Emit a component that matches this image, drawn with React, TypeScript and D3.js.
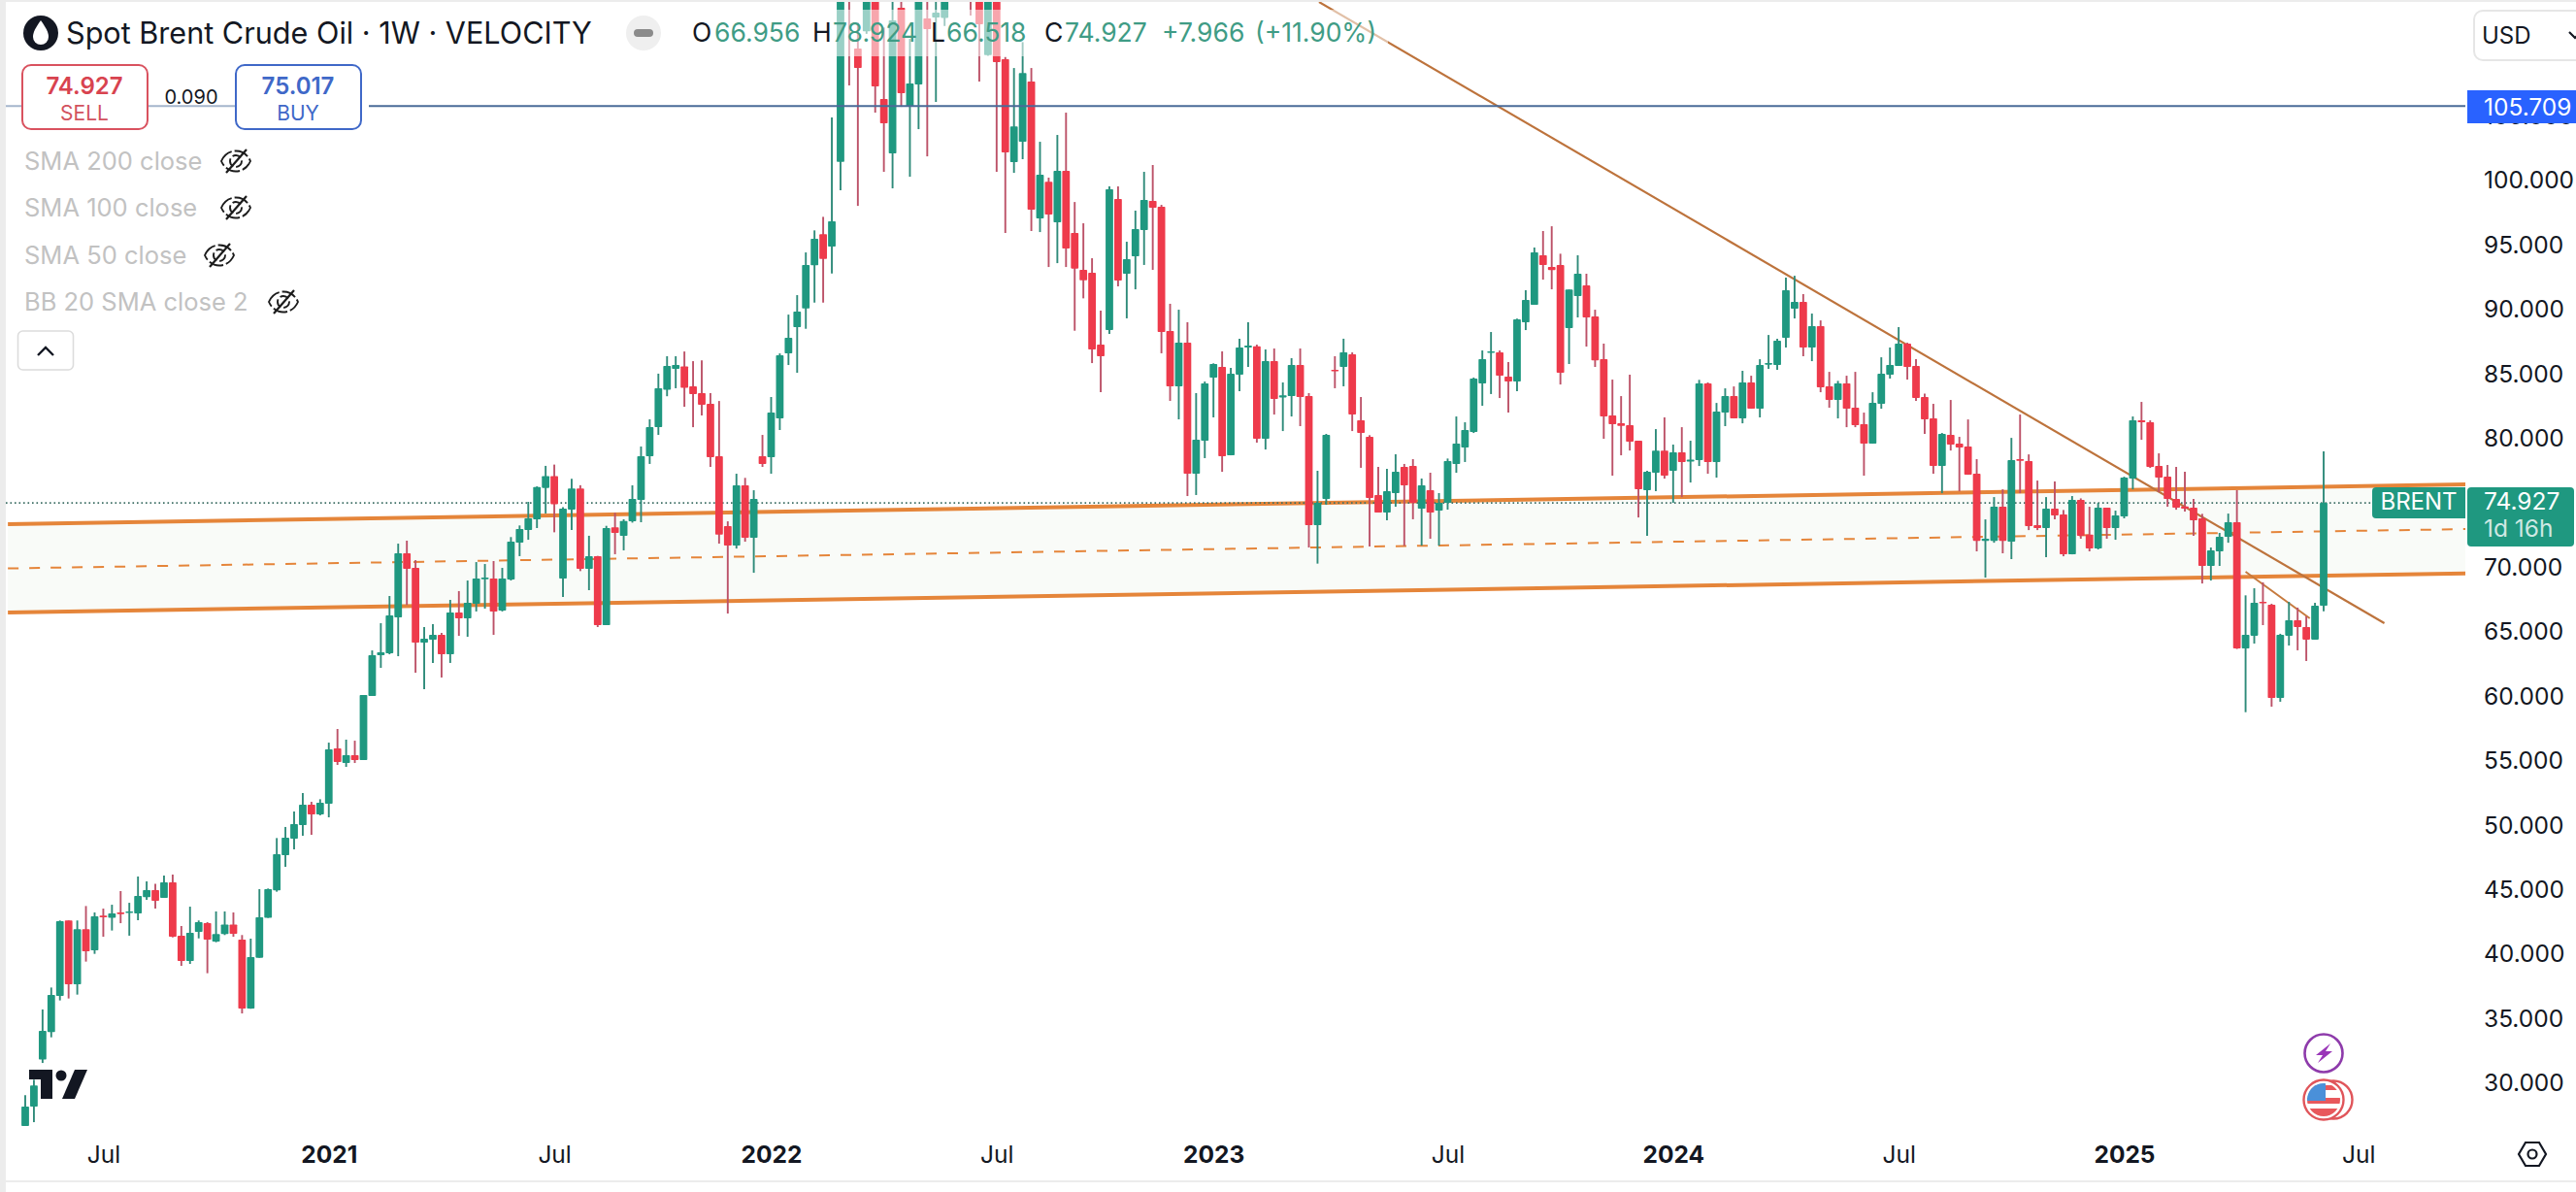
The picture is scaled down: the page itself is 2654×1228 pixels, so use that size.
import { useRef, useEffect } from 'react'
import * as d3 from 'd3'

const opens = [
  26.61, 28.12, 31.76, 33.89, 36.7, 42.55, 37.6, 41.87, 40.24, 42.92,
  42.75, 43.17, 43.15, 43.1, 44.35, 44.9, 44.3, 45.5, 41.37, 39.41,
  41.67, 42.34, 40.91, 41.49, 42.24, 41.06, 35.72, 39.66, 42.75, 44.88,
  47.61, 48.89, 49.95, 51.53, 50.77, 51.6, 55.89, 54.76, 55.37, 54.99,
  59.96, 63.12, 63.27, 66.05, 71.02, 69.89, 64.1, 64.32, 64.7, 63.19,
  66.43, 65.98, 67.11, 69.01, 69.06, 66.58, 68.99, 71.85, 72.83, 73.66,
  76.09, 77, 69.06, 74.41, 76.04, 69.82, 70.8, 65.45, 73.03, 72.38,
  73.51, 75.16, 78.55, 80.8, 83.7, 85.32, 85.52, 83.96, 83.44, 82.61,
  78.54, 73.13, 71.62, 76.29, 72.22, 78.54, 78.47, 81.48, 86.52, 88.56,
  90.01, 93.35, 95.76, 94.8, 101.37, 118, 110.16, 111.49, 115.5, 106.24,
  102.03, 113.32, 105.64, 107.37, 112.49, 112.57, 112.54, 118, 118, 116,
  115.5, 109.65, 115, 109.33, 101.35, 102.93, 107.6, 96.98, 99.84, 96.68,
  100.67, 95.86, 93, 92.77, 87.2, 88.33, 98.49, 92.7, 94.05, 96.09,
  98.34, 97.89, 88.26, 83.97, 87.35, 77.19, 79.75, 84.65, 85.47, 78.62,
  84.87, 86.98, 87.08, 79.9, 85.92, 83.11, 83.22, 85.62, 83.22, 73.2,
  75.24, 85.25, 85.47, 86.45, 81.33, 80.05, 75.54, 74.18, 75.69, 77.72,
  77.8, 74.48, 75.91, 74.33, 74.94, 77.95, 79.23, 80.43, 84.19, 86.58,
  86.6, 84.72, 84.34, 88.94, 90.29, 94.13, 93.22, 93.37, 88.48, 90.96,
  91.79, 89.38, 86.07, 81.71, 81.1, 80.95, 79.75, 75.91, 77.27, 78.99,
  77.42, 78.85, 78.14, 78.24, 84.19, 78.09, 81.93, 83.21, 81.48, 84.27,
  82.23, 85.65, 85.62, 87.73, 89.99, 90.51, 86.98, 88.63, 83.96, 82.91,
  84.19, 82.31, 81.03, 79.52, 82.61, 84.87, 85.55, 87.28, 85.55, 83.14,
  81.48, 77.79, 80.2, 79.52, 79.3, 77.19, 71.99, 71.99, 74.63, 71.92,
  78.32, 78.17, 73.2, 72.97, 74.48, 74.03, 70.94, 75.16, 72.47, 71.39,
  74.55, 72.97, 73.88, 76.81, 81.33, 81.18, 77.79, 76.96, 75.23, 74.65,
  74.55, 73.73, 70.04, 71.17, 72.3, 73.43, 63.65, 64.63, 67.26, 67.03,
  59.81, 64.63, 65.83, 65.3, 64.33, 66.956,
]

const closes = [
  28.12, 29.75, 33.99, 36.77, 42.5, 37.6, 41.87, 40.16, 42.87, 42.82,
  43.1, 43.05, 43.25, 44.45, 44.9, 44.07, 45.5, 41.29, 39.41, 41.59,
  42.42, 41.06, 41.49, 42.24, 41.52, 35.72, 39.71, 42.8, 44.98, 47.69,
  48.97, 50.02, 51.53, 50.77, 51.68, 55.82, 54.84, 55.37, 54.99, 60.03,
  63.12, 63.34, 66.2, 71.02, 69.82, 64.1, 64.4, 64.7, 63.19, 66.43,
  65.98, 67.18, 69.06, 69.14, 66.51, 69.06, 71.92, 72.9, 73.73, 76.16,
  77, 74.83, 74.48, 76.04, 69.82, 70.8, 65.45, 72.98, 72.6, 73.53,
  75.24, 78.55, 80.8, 83.82, 85.55, 85.62, 83.86, 83.36, 82.53, 78.47,
  72.47, 71.62, 76.29, 72.22, 75.23, 77.94, 81.93, 86.37, 87.73, 89.76,
  93.37, 95.4, 93.85, 96.76, 115.8, 115.5, 108.65, 115.5, 107.22, 104.36,
  112.34, 106.69, 107.45, 115.5, 111.66, 112.94, 115.3, 116, 116, 114.5,
  112.04, 115, 109.1, 102.1, 104.13, 108.27, 97.66, 100.37, 97.29, 100.67,
  94.65, 93.1, 92.19, 86.82, 86.3, 99.25, 92.17, 93.83, 96.16, 98.42,
  97.82, 88.18, 83.97, 87.35, 77.19, 79.83, 84.19, 85.7, 78.55, 84.95,
  86.98, 87.13, 79.9, 85.92, 82.99, 83.27, 85.62, 83.14, 73.2, 74.94,
  80.2, 85.15, 86.6, 81.78, 80.35, 75.31, 74.18, 75.84, 77.34, 76.29,
  74.94, 76.29, 74.18, 74.94, 78.17, 79.53, 80.58, 84.57, 86.07, 86.68,
  84.8, 84.34, 89.16, 90.67, 94.35, 93.37, 92.99, 85.02, 91.47, 92.7,
  89.31, 85.98, 81.63, 81.03, 80.9, 79.67, 75.99, 77.34, 78.99, 77.04,
  78.85, 78.09, 78.29, 84.19, 78.09, 82.01, 83.21, 81.48, 84.27, 82.23,
  85.62, 85.77, 87.5, 91.42, 90.51, 86.98, 88.63, 83.89, 82.91, 84.19,
  82.23, 80.95, 79.52, 82.68, 84.94, 85.62, 87.28, 85.47, 83.06, 81.41,
  77.79, 80.28, 79.45, 79.22, 77.11, 71.99, 72.15, 74.63, 71.99, 78.24,
  78.19, 73.13, 72.97, 74.48, 73.95, 70.94, 75.16, 72.37, 71.39, 74.55,
  72.97, 73.95, 76.89, 81.33, 81.18, 77.72, 76.89, 75.23, 74.55, 74.48,
  73.58, 70.04, 71.24, 72.3, 73.43, 63.65, 64.7, 67.18, 67.16, 59.81,
  64.7, 65.83, 65.3, 64.33, 66.96, 74.927,
]

const highs = [
  29, 30.2, 35.65, 37.35, 42.55, 42.55, 42.55, 43.67, 43.17, 43.47,
  43.77, 44.83, 43.92, 45.96, 45.58, 45.4, 46.03, 46.11, 42.12, 43.62,
  42.55, 42.42, 43.25, 43.25, 43.17, 41.42, 41.14, 44.98, 45.03, 48.94,
  49.8, 51, 52.43, 51.75, 51.95, 56.34, 57.4, 56.57, 56.49, 60.03,
  63.49, 65.6, 67.71, 71.77, 72, 70.49, 65.3, 65.53, 64.85, 67.41,
  68.09, 68.91, 70.34, 70.19, 70.42, 69.89, 72.28, 73.18, 75.01, 76.21,
  77.8, 77.9, 74.6, 76.8, 76.3, 72.38, 70.82, 73.15, 74.16, 73.66,
  76.29, 79.3, 81.41, 84.95, 86.3, 86.3, 86.67, 85.92, 85.98, 83.44,
  82.83, 73.5, 77.19, 76.87, 75.91, 80.2, 83.14, 86.52, 89.53, 91.04,
  94.35, 96.06, 97.11, 104.81, 117, 119, 112.16, 117, 116.5, 111.79,
  115, 115, 110.91, 116, 114.5, 115, 116, 119, 119, 117,
  116, 116, 116, 109.5, 108.65, 110.66, 108.65, 102.93, 100.15, 103.46,
  105.19, 98.26, 96.61, 93.9, 89.84, 99.47, 99.47, 95.18, 97.59, 100.6,
  101.13, 98.04, 90.37, 89.91, 88.94, 83.44, 84.34, 85.75, 86.68, 85.4,
  87.66, 88.94, 87.2, 86.83, 86.9, 84.27, 86.15, 86.9, 83.44, 77.42,
  80.28, 86.3, 87.66, 86.6, 83.14, 80.18, 77.72, 77.57, 78.7, 77.95,
  78.32, 76.82, 77.27, 75.69, 78.37, 81.63, 81.18, 84.65, 86.75, 88.18,
  86.75, 85.85, 89.21, 91.42, 94.73, 96.01, 96.38, 94.25, 91.47, 94.13,
  92.7, 89.91, 87.28, 84.49, 83.21, 84.87, 79.75, 77.42, 80.65, 81.56,
  79.45, 80.8, 79.75, 84.47, 84.27, 82.68, 83.81, 83.96, 85.17, 84.79,
  86.07, 87.95, 87.65, 92.39, 92.54, 91.12, 89.61, 89.08, 85.09, 84.39,
  84.79, 85.09, 81.93, 83.51, 86.22, 86.98, 88.56, 87.35, 86.07, 83.41,
  82.61, 80.35, 82.91, 80.05, 81.4, 78.32, 73.65, 75.38, 75.98, 79.97,
  81.78, 78.69, 76.66, 75.38, 76.59, 74.38, 75.46, 75.28, 74.63, 74.93,
  74.55, 74.33, 76.96, 81.63, 82.76, 81.33, 78.77, 77.87, 77.72, 77.34,
  75.23, 74.08, 71.47, 72.6, 74.1, 75.92, 67.76, 68.31, 68.77, 67.11,
  64.78, 67.26, 66.81, 66.13, 67.18, 78.924,
]

const lows = [
  26.61, 26.91, 31.5, 33.49, 36.35, 36.5, 36.8, 39.36, 39.96, 41.29,
  41.77, 42.34, 41.37, 42.57, 44.15, 43.47, 44.3, 41.24, 39.03, 39.18,
  41.16, 38.46, 40.86, 41.42, 41.29, 35.34, 35.7, 39.66, 42.75, 44.78,
  46.71, 48.06, 49.12, 49.19, 50.7, 50.55, 54.61, 54.46, 54.76, 54.99,
  59.96, 62.14, 63.19, 63.04, 67.01, 61.76, 60.48, 62.52, 61.39, 62.52,
  64.62, 64.55, 66.51, 66.73, 64.7, 66.51, 68.91, 70.8, 72.07, 72.98,
  74.11, 72.65, 67.63, 72.83, 69.64, 68.16, 65.3, 65.45, 70.95, 71.25,
  73.4, 73.43, 77.95, 80.2, 83.2, 83.82, 82.38, 80.8, 81.71, 77.72,
  71.77, 66.35, 71.39, 71.92, 69.51, 77.72, 77.19, 80.58, 85.62, 85.02,
  88.43, 90.46, 90.46, 92.72, 99.17, 107.3, 97.96, 111.3, 105.19, 100.6,
  99.32, 105.64, 100.22, 103.91, 101.8, 106.02, 111.91, 115, 115, 112.72,
  107.6, 109.6, 100.6, 95.86, 100.52, 101.58, 96.01, 95.93, 93.22, 93.52,
  93.22, 88.28, 90.79, 85.77, 83.52, 88.03, 91.72, 89.24, 91.49, 93.38,
  93, 86.53, 82.84, 81.41, 75.46, 75.54, 78.4, 81.56, 77.34, 78.62,
  83.59, 85.47, 79.6, 79.07, 81.78, 80.5, 81.63, 80.88, 71.47, 70.22,
  74.78, 83.82, 83.97, 80.5, 77.65, 71.55, 74.18, 73.58, 74.63, 71.6,
  73.66, 71.62, 72.15, 71.62, 74.41, 77.27, 78.1, 80.35, 82.46, 83.37,
  83.06, 81.94, 83.59, 88.33, 90.29, 92.24, 91.49, 84.11, 85.7, 89.31,
  87.05, 85.47, 79.9, 77.04, 78.62, 78.99, 73.8, 72.37, 75.84, 76.81,
  74.93, 75.38, 76.51, 77.79, 77.19, 76.89, 80.88, 81.48, 81.1, 82.23,
  81.56, 85.32, 85.24, 86.98, 89.23, 86.3, 85.92, 83.51, 82.31, 81.48,
  80.8, 80.8, 77.04, 79.52, 82.23, 84.57, 85.55, 84.49, 82.84, 80.28,
  77.19, 75.68, 78.99, 75.83, 77.11, 71.17, 69.14, 71.84, 71.02, 70.57,
  75.68, 72.82, 72.82, 70.72, 73.65, 70.79, 70.94, 72.15, 71.17, 71.32,
  72.15, 72.07, 73.73, 75.98, 79.82, 77.64, 75.76, 74.63, 74.4, 74.25,
  72.37, 68.68, 68.91, 70.04, 71.84, 63.6, 58.7, 64.02, 65.45, 59.13,
  59.51, 63.87, 63.5, 62.67, 64.33, 66.518,
]

const priceTicks = [30, 35, 40, 45, 50, 55, 60, 65, 70, 80, 85, 90, 95, 100, 105]
const timeTickBars = [9, 35, 61, 86, 112, 137, 164, 190, 216, 242, 269]
const timeTickLabels = ['Jul', '2021', 'Jul', '2022', 'Jul', '2023', 'Jul', '2024', 'Jul', '2025', 'Jul']

// channel and trend lines, [bar, price] anchors
const channelBars = [-2, 281.5]
const channelUpper = [73.28, 76.36]
const channelLower = [66.43, 69.46]
const channelMiddle = [69.85, 72.9]
const trendLong = [[149.17, 113.77], [272, 65.6]]
const trendShort = [[256, 69.59], [263.4, 65.98]]

const positionPrice = 105.709
const lastPrice = 74.927

const GREEN = '#1f9880'
const RED = '#ee3a4b'
const ORANGE = '#e5853a'
const FONT = 'Inter, "Noto Sans", sans-serif'

const ohlc = [
  ['O', '66.956', 713, 736],
  ['H', '78.924', 837, 858],
  ['L', '66.518', 959, 975],
  ['C', '74.927', 1076, 1097],
] as const

const indicators = [
  ['SMA 200 close', 175, 243],
  ['SMA 100 close', 223, 243],
  ['SMA 50 close', 272, 226],
  ['BB 20 SMA close 2', 320, 292],
] as const

function EyeOff({ x, y }: { x: number; y: number }) {
  return (
    <g transform={`translate(${x},${y})`} fill="none" stroke="#1c1c1c" strokeWidth={1.9}>
      <path d="M-15,0 C-9,-14 9,-14 15,0 C9,14 -9,14 -15,0 Z" strokeDasharray="15 3" />
      <circle r={6} strokeDasharray="9 3" />
      <path d="M-10,12 L11,-12" strokeWidth={2.2} />
    </g>
  )
}

export default function App() {
  const plotRef = useRef<SVGGElement>(null)
  const axesRef = useRef<SVGGElement>(null)

  useEffect(() => {
    if (!plotRef.current || !axesRef.current) return
    const x = d3.scaleLinear().domain([0, 265]).range([26, 2394])
    const y = d3.scaleLinear().domain([30, 100]).range([1115, 185])

    const g = d3.select(plotRef.current)
    g.selectAll('*').remove()

    // band between the channel lines
    const band = d3
      .area<number>()
      .x((d) => x(d))
      .y0((_, i) => y(channelLower[i]))
      .y1((_, i) => y(channelUpper[i]))
    g.append('path').datum(channelBars).attr('fill', '#f9fbf8').attr('d', band)

    const drawLine = (pts: number[][], color: string, w: number, dash?: string) => {
      g.append('path')
        .datum(pts)
        .attr('fill', 'none')
        .attr('stroke', color)
        .attr('stroke-width', w)
        .attr('stroke-dasharray', dash ?? null)
        .attr('d', d3.line<number[]>().x((d) => x(d[0])).y((d) => y(d[1])))
    }
    const zip = (vals: number[]) => channelBars.map((b, i) => [b, vals[i]])

    drawLine(zip(channelUpper), ORANGE, 4)
    drawLine(zip(channelLower), ORANGE, 4)
    drawLine(zip(channelMiddle), ORANGE, 2, '11 11')
    drawLine(trendLong, '#bd733c', 2.2)
    drawLine(trendShort, '#c67a3e', 2)

    // last price line
    g.append('line')
      .attr('x1', 6).attr('x2', 2444)
      .attr('y1', y(lastPrice)).attr('y2', y(lastPrice))
      .attr('stroke', '#3f6f66')
      .attr('stroke-width', 1.6)
      .attr('stroke-dasharray', '1.6 2.9')

    // candles
    const bars = opens.map((o, i) => ({ i, o, h: highs[i], l: lows[i], c: closes[i] }))
    g.selectAll('line.wick')
      .data(bars)
      .join('line')
      .attr('class', 'wick')
      .attr('x1', (d) => x(d.i))
      .attr('x2', (d) => x(d.i))
      .attr('y1', (d) => y(d.h))
      .attr('y2', (d) => y(d.l))
      .attr('stroke', (d) => (d.c >= d.o ? '#2f8b7a' : '#bc5268'))
      .attr('stroke-width', 1.9)
    g.selectAll('rect.body')
      .data(bars)
      .join('rect')
      .attr('class', 'body')
      .attr('x', (d) => x(d.i) - 3.9)
      .attr('width', 7.8)
      .attr('y', (d) => y(Math.max(d.o, d.c)))
      .attr('height', (d) => Math.max(1.6, Math.abs(y(d.o) - y(d.c))))
      .attr('rx', 0.8)
      .attr('fill', (d) => (d.c >= d.o ? GREEN : RED))

    g.append('line')
      .attr('x1', 6).attr('x2', 2540)
      .attr('y1', y(positionPrice)).attr('y2', y(positionPrice))
      .attr('stroke', '#4a6b98')
      .attr('stroke-width', 2)

    // axes
    const axes = d3.select(axesRef.current)
    axes.selectAll('*').remove()
    const styleAxis = (a: d3.Selection<SVGGElement, unknown, null, undefined>) => {
      a.select('.domain').remove()
      a.selectAll('.tick line').remove()
      a.selectAll('.tick text').attr('fill', '#131722').attr('font-size', 24.5).attr('font-family', FONT)
    }
    axes.append('g')
      .attr('transform', 'translate(2559,1)')
      .call(d3.axisRight(y).tickValues(priceTicks).tickSize(0).tickPadding(0).tickFormat(d3.format('.3f')) as never)
      .call(styleAxis as never)
    const xAxisG = axes.append('g')
      .attr('transform', 'translate(0,1171)')
      .call(
        d3.axisBottom(x)
          .tickValues(timeTickBars)
          .tickSize(0)
          .tickPadding(0)
          .tickFormat((_, i) => timeTickLabels[i]) as never,
      )
      .call(styleAxis as never)
    xAxisG.selectAll('.tick text')
      .attr('dy', 27)
      .attr('font-weight', (_, i) => (timeTickLabels[i] === 'Jul' ? 400 : 700))
  }, [])

  return (
    <svg
      width={2654}
      height={1228}
      viewBox="0 0 2654 1228"
      style={{ position: 'absolute', left: 0, top: 0, background: '#fff', fontFamily: FONT }}
    >
      <defs>
        <clipPath id="plot-clip">
          <rect x={6} y={2} width={2534} height={1214} />
        </clipPath>
        <clipPath id="flag-clip">
          <circle cx={2394} cy={1133} r={17} />
        </clipPath>
      </defs>

      <g clipPath="url(#plot-clip)">
        <g ref={plotRef} />
      </g>

      {/* frame */}
      <rect x={0} y={0} width={6} height={1228} fill="#ececec" />
      <rect x={0} y={0} width={2654} height={2} fill="#ececec" />
      <rect x={6} y={1216} width={2648} height={2} fill="#ececec" />

      {/* legend veil over the candles */}
      <rect x={700} y={10} width={730} height={48} fill="#fff" fillOpacity={0.55} />
      {/* position line fades behind the sell / buy pair */}
      <rect x={6} y={107} width={366} height={6} fill="#fff" fillOpacity={0.5} />
      <rect x={372} y={107} width={8} height={6} fill="#fff" />

      <g ref={axesRef} />

      {/* header */}
      <circle cx={42} cy={34} r={18} fill="#131722" />
      <path d="M42,21 C47,28 50,33 50,38 A8,8 0 0 1 34,38 C34,33 37,28 42,21 Z" fill="#fff" />
      <text x={68} y={45} fontSize={30.6} fill="#131722">Spot Brent Crude Oil · 1W · VELOCITY</text>
      <circle cx={663} cy={34} r={18} fill="#efefef" />
      <rect x={653} y={30} width={20} height={8} rx={4} fill="#8b8b8b" />
      {ohlc.map(([k, v, kx, vx]) => (
        <g key={k} fontSize={26.5}>
          <text x={kx} y={43} fill="#131722">{k}</text>
          <text x={vx} y={43} fill="#3f9c85">{v}</text>
        </g>
      ))}
      <text x={1197} y={43} fontSize={26.5} fill="#3f9c85">+7.966</text>
      <text x={1293} y={43} fontSize={26.5} fill="#3f9c85">(+11.90%)</text>

      {/* sell / buy */}
      <rect x={23} y={67} width={129} height={66} rx={9} fill="#fff" stroke="#d9525f" strokeWidth={2} />
      <text x={87} y={97} fontSize={24} fontWeight={600} fill="#d8434f" textAnchor="middle">74.927</text>
      <text x={87} y={124} fontSize={21} fill="#d2525e" textAnchor="middle">SELL</text>
      <text x={197} y={107} fontSize={20} fill="#131722" textAnchor="middle">0.090</text>
      <rect x={243} y={67} width={129} height={66} rx={9} fill="#fff" stroke="#3f68c8" strokeWidth={2} />
      <text x={307} y={97} fontSize={24} fontWeight={600} fill="#3f68c8" textAnchor="middle">75.017</text>
      <text x={307} y={124} fontSize={21} fill="#3f68c8" textAnchor="middle">BUY</text>

      {/* indicators */}
      {indicators.map(([name, base, eyeX]) => (
        <g key={name}>
          <text x={25} y={base} fontSize={25.5} fill="#c2c2c2">{name}</text>
          <EyeOff x={eyeX} y={base - 9} />
        </g>
      ))}
      <rect x={18.5} y={341} width={57} height={40} rx={5} fill="#fff" stroke="#dcdcdc" strokeWidth={1.6} />
      <path d="M39,366 L47,358 L55,366" fill="none" stroke="#131722" strokeWidth={2.4} />

      {/* currency */}
      <rect x={2549} y={11} width={120} height={51} rx={9} fill="#fff" stroke="#e6e6e6" strokeWidth={2} />
      <text x={2557} y={45} fontSize={24} fill="#131722">USD</text>
      <path d="M2647,33 L2653,39 L2659,33" fill="none" stroke="#131722" strokeWidth={2.2} />

      {/* price labels */}
      <rect x={2542} y={93} width={112} height={34} fill="#2962ff" />
      <text x={2559} y={119} fontSize={24.5} fill="#fff">105.709</text>
      <path d="M2444,506 a4,4 0 0 1 4,-4 H2540 V534 H2448 a4,4 0 0 1 -4,-4 Z" fill={GREEN} />
      <text x={2492} y={525} fontSize={24} fill="#fff" textAnchor="middle">BRENT</text>
      <rect x={2542} y={502} width={110} height={61} rx={4} fill={GREEN} />
      <text x={2559} y={525} fontSize={24.5} fill="#fff">74.927</text>
      <text x={2559} y={553} fontSize={24.5} fill="#fff" fillOpacity={0.78}>1d 16h</text>

      {/* tradingview mark */}
      <g fill="#131722">
        <path d="M30,1102 H54 V1132 H42 V1112 H30 Z" />
        <circle cx={63} cy={1108} r={5.5} />
        <path d="M77,1102 H90 L77,1132 H64 Z" />
      </g>

      {/* event markers */}
      <circle cx={2394} cy={1085} r={19.5} fill="#fff" stroke="#8e3bab" strokeWidth={2.6} />
      <path d="M2401,1075 L2386,1087 L2393,1087 L2388,1095 L2403,1083 L2396,1083 Z" fill="#9a36b8" />
      <circle cx={2404} cy={1133} r={19.5} fill="#fff" stroke="#e0555a" strokeWidth={2.4} />
      <circle cx={2394} cy={1133} r={20.5} fill="#fff" stroke="#e0555a" strokeWidth={2.4} />
      <g clipPath="url(#flag-clip)">
        <rect x={2377} y={1116} width={34} height={34} fill="#fff" />
        <rect x={2377} y={1131} width={34} height={6} fill="#e8585c" />
        <rect x={2377} y={1142} width={34} height={8} fill="#e8585c" />
        <rect x={2377} y={1118} width={34} height={5} fill="#e8585c" />
        <rect x={2377} y={1116} width={19} height={18} fill="#4a90d9" />
      </g>

      {/* settings */}
      <g fill="none" stroke="#131722" strokeWidth={2.2}>
        <path d="M2595,1189 L2602,1177 H2616 L2623,1189 L2616,1201 H2602 Z" />
        <circle cx={2609} cy={1189} r={4.5} />
      </g>
    </svg>
  )
}
